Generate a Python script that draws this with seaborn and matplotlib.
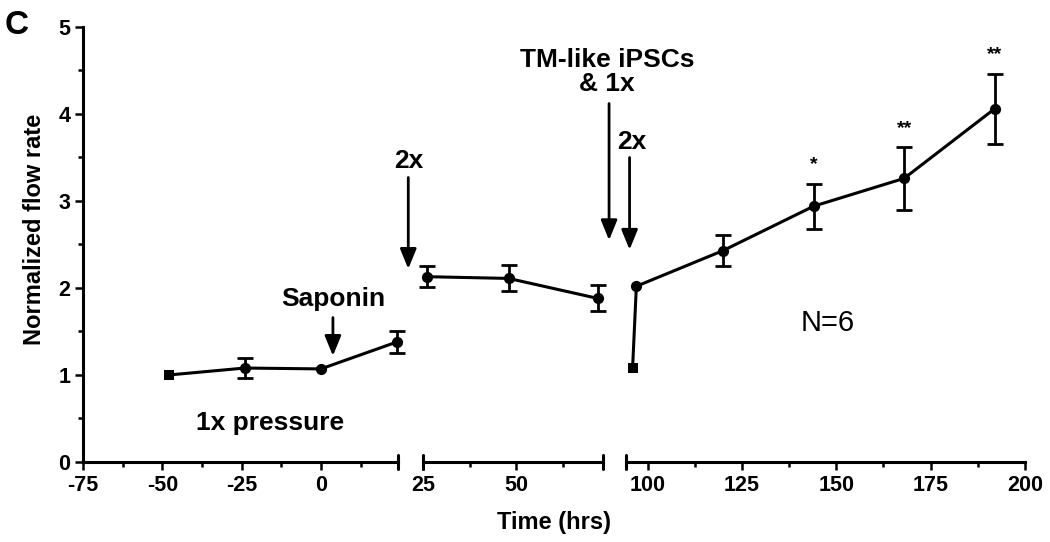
import numpy as np
import pandas as pd
import matplotlib
matplotlib.use("Agg")
import matplotlib.pyplot as plt
import seaborn as sns
from matplotlib.ticker import FixedLocator

# ---------------- data ----------------
time_1x = [-48, -24, 0, 24]
flow_1x = [1.00, 1.08, 1.07, 1.38]
err_1x = [0.00, 0.11, 0.00, 0.13]
marker_1x = ["s", "o", "o", "o"]

time_2x = [26, 48, 72]
flow_2x = [2.13, 2.11, 1.88]
err_2x = [0.12, 0.15, 0.15]
marker_2x = ["o", "o", "o"]

time_cells = [96, 97, 120, 144, 168, 192]
flow_cells = [1.08, 2.02, 2.43, 2.94, 3.26, 4.06]
err_cells = [0.00, 0.00, 0.18, 0.26, 0.36, 0.40]
marker_cells = ["s", "o", "o", "o", "o", "o"]

star_times = [144, 168, 192]
star_labels = ["*", "**", "**"]

x_major = [[-75, -50, -25, 0], [25, 50], [100, 125, 150, 175, 200]]
x_minor = [[-62.5, -37.5, -12.5, 12.5], [37.5, 62.5], [112.5, 137.5, 162.5, 187.5]]
x_limits = [(-75, 24.3), (25, 73.4), (94.2, 200)]
y_major = [0, 1, 2, 3, 4, 5]
y_minor = [0.5, 1.5, 2.5, 3.5, 4.5]

segments = [
    (time_1x, flow_1x, err_1x, marker_1x),
    (time_2x, flow_2x, err_2x, marker_2x),
    (time_cells, flow_cells, err_cells, marker_cells),
]

# ---------------- style ----------------
sns.set_style("ticks")
plt.rcParams["font.family"] = ["Liberation Sans", "DejaVu Sans"]
plt.rcParams["axes.unicode_minus"] = False
plt.rcParams["text.color"] = "k"
plt.rcParams["xtick.color"] = "k"
plt.rcParams["ytick.color"] = "k"
plt.rcParams["axes.labelcolor"] = "k"

fig = plt.figure(figsize=(10.5, 5.42), dpi=100)
bottom, height = 0.1476, 0.8026
ax1 = fig.add_axes([0.079, bottom, 0.300, height])
ax2 = fig.add_axes([0.403, bottom, 0.1714, height], sharey=ax1)
ax3 = fig.add_axes([0.596, bottom, 0.380, height], sharey=ax1)
axes = [ax1, ax2, ax3]

LW = 2.2
for i, (ax, (t, f, e, m)) in enumerate(zip(axes, segments)):
    df = pd.DataFrame({"time": t, "flow": f, "err": e, "marker": m})
    sns.lineplot(data=df, x="time", y="flow", color="k", lw=LW, ax=ax,
                 clip_on=False, zorder=3)
    de = df[df["err"] > 0]
    ax.errorbar(de["time"], de["flow"], yerr=de["err"], fmt="none",
                ecolor="k", elinewidth=2, capsize=5.5, capthick=2,
                clip_on=False, zorder=3)
    for mk, sub in df.groupby("marker"):
        sns.scatterplot(data=sub, x="time", y="flow", marker=mk, color="k",
                        s=65 if mk == "o" else 60, edgecolor="k", linewidth=0,
                        ax=ax, clip_on=False, zorder=4, legend=False)
    ax.set_xlim(*x_limits[i])
    ax.set_ylim(0, 5)
    ax.set_xlabel("")
    ax.set_ylabel("")
    ax.xaxis.set_major_locator(FixedLocator(x_major[i]))
    ax.xaxis.set_minor_locator(FixedLocator(x_minor[i]))
    for s in ["top", "right"]:
        ax.spines[s].set_visible(False)
    ax.spines["bottom"].set_linewidth(LW)
    ax.spines["left"].set_linewidth(LW)
    ax.spines["bottom"].set_color("k")
    ax.spines["left"].set_color("k")
    ax.tick_params(axis="x", which="major", length=5.5, width=1.8,
                   labelsize=15.5, pad=4, color="k", labelcolor="k")
    ax.tick_params(axis="x", which="minor", length=3.5, width=1.8, color="k")
    for lab in ax.get_xticklabels():
        lab.set_fontweight("bold")
    ax.patch.set_alpha(0)

# y axis on first segment only
ax1.yaxis.set_major_locator(FixedLocator(y_major))
ax1.yaxis.set_minor_locator(FixedLocator(y_minor))
ax1.tick_params(axis="y", which="major", length=5.5, width=1.8, labelsize=15.5,
                color="k", labelcolor="k")
ax1.tick_params(axis="y", which="minor", length=3.5, width=1.8, color="k")
for lab in ax1.get_yticklabels():
    lab.set_fontweight("bold")
for ax in (ax2, ax3):
    ax.spines["left"].set_visible(False)
    ax.tick_params(axis="y", which="both", left=False, labelleft=False)

# axis-break end bars
def end_bar(ax, x):
    ax.axvline(x, ymin=-0.017, ymax=0.017, color="k", lw=LW, clip_on=False)

end_bar(ax1, x_limits[0][1])
end_bar(ax2, x_limits[1][0])
end_bar(ax2, x_limits[1][1])
end_bar(ax3, x_limits[2][0])

ax1.set_ylabel("Normalized flow rate", fontsize=17, fontweight="bold", color="k")
ax1.yaxis.set_label_coords(-0.118, 0.535)
fig.text(554 / 1050, 1 - 523 / 542, "Time (hrs)", ha="center", va="center",
         fontsize=17, fontweight="bold", color="k")
fig.text(5 / 1050, 1 - 10 / 542, "C", ha="left", va="top", fontsize=24,
         fontweight="bold", color="k")

# annotations
arrow = dict(arrowstyle="-|>,head_length=1.1,head_width=0.45", color="k",
             lw=2, mutation_scale=11, shrinkA=0, shrinkB=0)
ax1.annotate("", xy=(3.8, 1.22), xytext=(3.8, 1.66), arrowprops=arrow,
             annotation_clip=False)
ax1.text(3.8, 1.87, "Saponin", ha="center", va="center", fontsize=19,
         fontweight="bold")
ax1.text(-16, 0.45, "1x pressure", ha="center", va="center", fontsize=19,
         fontweight="bold")

ax2.annotate("", xy=(21, 2.22), xytext=(21, 3.27), arrowprops=arrow,
             annotation_clip=False)
ax2.text(21, 3.46, "2x", ha="center", va="center", fontsize=19,
         fontweight="bold", clip_on=False)

ax2.annotate("", xy=(75, 2.55), xytext=(75, 4.12), arrowprops=arrow,
             annotation_clip=False)
ax2.text(74.5, 4.48, "TM-like iPSCs\n& 1x", ha="center", va="center",
         fontsize=19, fontweight="bold", linespacing=1.0, clip_on=False)

ax3.annotate("", xy=(95.2, 2.44), xytext=(95.2, 3.50), arrowprops=arrow,
             annotation_clip=False)
ax3.text(95.8, 3.68, "2x", ha="center", va="center", fontsize=19,
         fontweight="bold", clip_on=False)

ax3.text(147.7, 1.6, "N=6", ha="center", va="center", fontsize=21)

for t, lab in zip(star_times, star_labels):
    idx = time_cells.index(t)
    ax3.text(t, flow_cells[idx] + err_cells[idx] + 0.12, lab, ha="center",
             va="bottom", fontsize=14, fontweight="bold")

fig.savefig("out.png", dpi=100)
